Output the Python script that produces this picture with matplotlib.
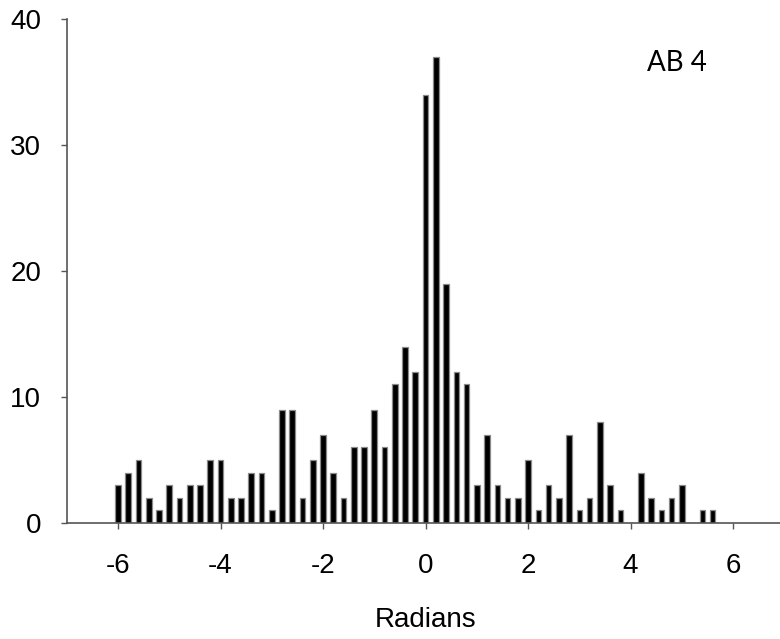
import matplotlib.pyplot as plt
import numpy as np

plt.rcParams['font.family'] = ['Liberation Sans', 'DejaVu Sans']

# bin centres (radians) and counts
radians = [-6.0, -5.8, -5.6, -5.4, -5.2, -5.0, -4.8, -4.6, -4.4, -4.2,
           -4.0, -3.8, -3.6, -3.4, -3.2, -3.0, -2.8, -2.6, -2.4, -2.2,
           -2.0, -1.8, -1.6, -1.4, -1.2, -1.0, -0.8, -0.6, -0.4, -0.2,
           0.0, 0.2, 0.4, 0.6, 0.8, 1.0, 1.2, 1.4, 1.6, 1.8,
           2.0, 2.2, 2.4, 2.6, 2.8, 3.0, 3.2, 3.4, 3.6, 3.8,
           4.0, 4.2, 4.4, 4.6, 4.8, 5.0, 5.2, 5.4, 5.6]
counts = [3, 4, 5, 2, 1, 3, 2, 3, 3, 5,
          5, 2, 2, 4, 4, 1, 9, 9, 2, 5,
          7, 4, 2, 6, 6, 9, 6, 11, 14, 12,
          34, 37, 19, 12, 11, 3, 7, 3, 2, 2,
          5, 1, 3, 2, 7, 1, 2, 8, 3, 1,
          0, 4, 2, 1, 2, 3, 0, 1, 1]
xticks = [-6, -4, -2, 0, 2, 4, 6]
yticks = [0, 10, 20, 30, 40]

fig = plt.figure(figsize=(7.8, 6.39), dpi=100)
ax = fig.add_axes([0.0856, 0.1815, 0.92, 0.7887])

ax.bar(radians, counts, width=0.11, color='black',
       edgecolor='#8a8a8a', linewidth=0.9)

ax.set_xlim(-7, 7)
ax.set_ylim(0, 40)
ax.set_xticks(xticks)
ax.set_xticklabels([str(t) for t in xticks])
ax.set_yticks(yticks)
ax.tick_params(labelsize=20, direction='out', length=4.5, width=1,
               color='#555555')
ax.tick_params(axis='x', pad=17)
ax.tick_params(axis='y', pad=14)

for side in ['top', 'right']:
    ax.spines[side].set_visible(False)
for side in ['left', 'bottom']:
    ax.spines[side].set_color('#555555')
    ax.spines[side].set_linewidth(1.2)

ax.set_xlabel('Radians', fontsize=20, labelpad=20)
ax.text(0.809, 0.913, 'AB 4', transform=ax.transAxes, fontsize=20,
        family=['Lato', 'DejaVu Sans'], ha='left', va='center')

plt.savefig('out.png', dpi=100)
plt.close()
